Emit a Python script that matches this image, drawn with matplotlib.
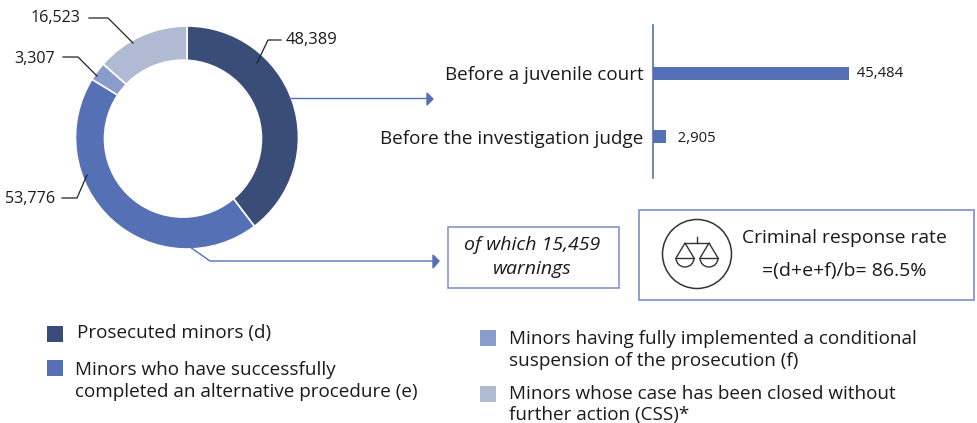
import matplotlib
matplotlib.use("Agg")
import matplotlib.pyplot as plt
from matplotlib.patches import Rectangle, Circle, Arc, Polygon

plt.rcParams['font.family'] = ['Open Sans', 'DejaVu Sans']

# Data
pie_values = [48389, 53776, 3307, 16523]
pie_labels = ["48,389", "53,776", "3,307", "16,523"]
pie_colors = ["#3A4C78", "#5670B6", "#8A9CCB", "#B0BAD2"]
bar_names = ["Before a juvenile court", "Before the investigation judge"]
bar_values = [45484, 2905]
bar_labels = ["45,484", "2,905"]
legend_left = ["Prosecuted minors (d)",
               "Minors who have successfully\ncompleted an alternative procedure (e)"]
legend_right = ["Minors having fully implemented a conditional\nsuspension of the prosecution (f)",
                "Minors whose case has been closed without\nfurther action (CSS)*"]

W, H = 977, 423
TEXT = "#1a1a1a"
BLUE = "#5670B6"


def px_axes(fig, left, top, right, bottom):
    # Axes placed with pixel coordinates of the picture
    return fig.add_axes([left / W, 1 - bottom / H, (right - left) / W, (bottom - top) / H])


fig = plt.figure(figsize=(W / 100, H / 100), dpi=100)

# Donut, the hole sits a little left of centre in the original
ax_pie = px_axes(fig, 75.5, 26, 298.5, 249)
ax_pie.pie(pie_values, colors=pie_colors, startangle=90, counterclock=False, radius=1,
           wedgeprops=dict(edgecolor="white", linewidth=1.2))
ax_pie.add_patch(Circle((-0.036, -0.01), 0.705, color="white", zorder=5))
ax_pie.set_xlim(-1, 1)
ax_pie.set_ylim(-1, 1)

# Bars
ax_bar = px_axes(fig, 653, 25, 877, 178)
ax_bar.barh([0, 1], bar_values, height=0.205, color=BLUE)
ax_bar.set_xlim(0, 45484 * 224 / 196)
ax_bar.set_ylim(1.645, -0.755)
ax_bar.set_yticks([0, 1])
ax_bar.set_yticklabels(bar_names, fontsize=13.6, color=TEXT)
ax_bar.tick_params(axis='y', length=0, pad=7)
ax_bar.set_xticks([])
for s in ["top", "right", "bottom"]:
    ax_bar.spines[s].set_visible(False)
ax_bar.spines["left"].set_color(BLUE)
ax_bar.spines["left"].set_linewidth(1.2)
ax_bar.patch.set_alpha(0)
ax_bar.text(bar_values[0], 0.01, "  " + bar_labels[0], va="center", ha="left", fontsize=10.7, color=TEXT)
ax_bar.text(bar_values[1], 1.02, "   " + bar_labels[1], va="center", ha="left", fontsize=10.7, color=TEXT)

# Overlay in pixel coordinates for callouts, boxes and legend
ov = fig.add_axes([0, 0, 1, 1])
ov.set_xlim(0, W)
ov.set_ylim(H, 0)
ov.axis("off")
ov.patch.set_alpha(0)

# Leader lines of the donut
leaders = [[(257, 63), (268, 40), (281, 40)],
           [(87, 175), (77, 198), (62, 198)],
           [(97, 76), (78, 57), (63, 57)],
           [(133, 43), (108, 18), (89, 18)]]
for pts in leaders:
    ov.plot([p[0] for p in pts], [p[1] for p in pts], color="#222222", lw=0.9)
ov.text(286, 40, pie_labels[0], va="center", ha="left", fontsize=11.9, color=TEXT)
ov.text(55.5, 199, pie_labels[1], va="center", ha="right", fontsize=11.6, color=TEXT)
ov.text(55, 59, pie_labels[2], va="center", ha="right", fontsize=11.6, color=TEXT)
ov.text(80, 18, pie_labels[3], va="center", ha="right", fontsize=11.6, color=TEXT)

# Blue callout arrows
ov.plot([289, 428], [98.5, 98.5], color=BLUE, lw=1)
ov.add_patch(Polygon([(427, 93), (433, 99), (427, 105)], color=BLUE))
ov.plot([190, 210, 434], [247, 261, 261], color=BLUE, lw=1)
ov.add_patch(Polygon([(433, 255), (439, 261), (433, 268)], color=BLUE))

# Warnings box
ov.add_patch(Rectangle((448, 227), 171, 61, fill=False, edgecolor="#7B8EC6", lw=1.1))
ov.text(532, 257, "of which 15,459\nwarnings", ha="center", va="center", style="italic",
        fontsize=14, color=TEXT, linespacing=1.5)

# Rate box
ov.add_patch(Rectangle((638.5, 210), 335, 90, fill=False, edgecolor="#7B8EC6", lw=1.2))
ov.text(844, 238, "Criminal response rate", ha="center", va="center", fontsize=13.85, color=TEXT)
ov.text(844, 271, "=(d+e+f)/b= 86.5%", ha="center", va="center", fontsize=14, color=TEXT)

# Scales icon
ICON = "#333333"
ov.add_patch(Circle((697, 254), 34.5, fill=False, edgecolor=ICON, lw=1.1))
ov.plot([697, 697], [237, 243], color=ICON, lw=1)
ov.plot([685, 709], [243, 243], color=ICON, lw=1)
for cx in [685, 709]:
    ov.plot([cx - 9, cx, cx + 9], [258, 243, 258], color=ICON, lw=1)
    ov.plot([cx - 9, cx + 9], [258, 258], color=ICON, lw=1)
    ov.add_patch(Arc((cx, 258), 18, 18, theta1=0, theta2=180, edgecolor=ICON, lw=1))

# Legend
ov.add_patch(Rectangle((47, 326), 16, 16, color=pie_colors[0], lw=0))
ov.text(77, 333, legend_left[0], va="center", ha="left", fontsize=13.6, color=TEXT)
ov.add_patch(Rectangle((47, 360), 16, 16, color=pie_colors[1], lw=0))
ov.text(75, 381, legend_left[1], va="center", ha="left", fontsize=13.6, color=TEXT, linespacing=1.32)
ov.add_patch(Rectangle((480, 330), 16, 16, color=pie_colors[2], lw=0))
ov.text(509, 350, legend_right[0], va="center", ha="left", fontsize=13.6, color=TEXT, linespacing=1.32)
ov.add_patch(Rectangle((480, 386), 16, 16, color=pie_colors[3], lw=0))
ov.text(509, 404.5, legend_right[1], va="center", ha="left", fontsize=13.6, color=TEXT, linespacing=1.28)

fig.savefig("out.png", dpi=100)
